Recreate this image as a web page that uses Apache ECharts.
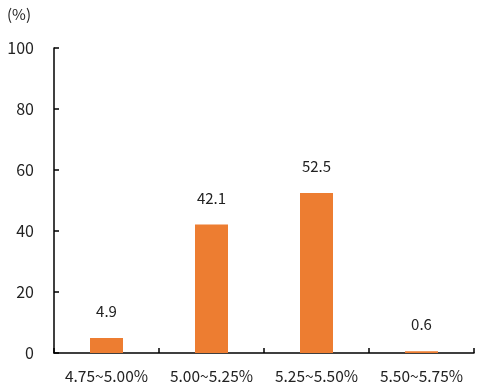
<!DOCTYPE html>
<html><head><meta charset="utf-8">
<script src="https://cdn.jsdelivr.net/npm/echarts@6/dist/echarts.min.js"></script>
<style>html,body{margin:0;padding:0;background:#fff}#c{width:483px;height:390px}</style>
</head><body><div id="c"></div>
<script>
const categories = ['4.75~5.00%', '5.00~5.25%', '5.25~5.50%', '5.50~5.75%'];
const values = [4.9, 42.1, 52.5, 0.6];
const unitLabel = '(%)';

const font = '"Noto Sans CJK KR", "Noto Sans", sans-serif';
const chart = echarts.init(document.getElementById('c'), null, {renderer: 'canvas'});
chart.setOption({
  animation: false,
  backgroundColor: '#fff',
  textStyle: {fontFamily: font},
  graphic: [{type: 'text', left: 7, top: 7, style: {text: unitLabel, fontSize: 15, fill: '#222', fontFamily: font}}],
  grid: {left: 54, right: 9, top: 48, bottom: 37},
  xAxis: {
    type: 'category', data: categories,
    axisLine: {lineStyle: {color: '#000', width: 1.5}},
    axisTick: {show: true, inside: true, length: 5, interval: 0, lineStyle: {color: '#000', width: 1.5}},
    axisLabel: {color: '#222', fontSize: 15.5, margin: 15, interval: 0, hideOverlap: false, fontFamily: font}
  },
  yAxis: {
    type: 'value', min: 0, max: 100, interval: 20,
    axisLine: {show: true, lineStyle: {color: '#000', width: 1.5}},
    axisTick: {show: true, inside: true, length: 5, lineStyle: {color: '#000', width: 1.5}},
    splitLine: {show: false},
    axisLabel: {color: '#222', fontSize: 16, margin: 20, fontFamily: font}
  },
  series: [{
    type: 'bar', data: values, barWidth: 33,
    itemStyle: {color: '#ED7D31'},
    label: {show: true, position: 'top', distance: 19, color: '#222', fontSize: 15, fontFamily: font}
  }]
});
</script></body></html>
